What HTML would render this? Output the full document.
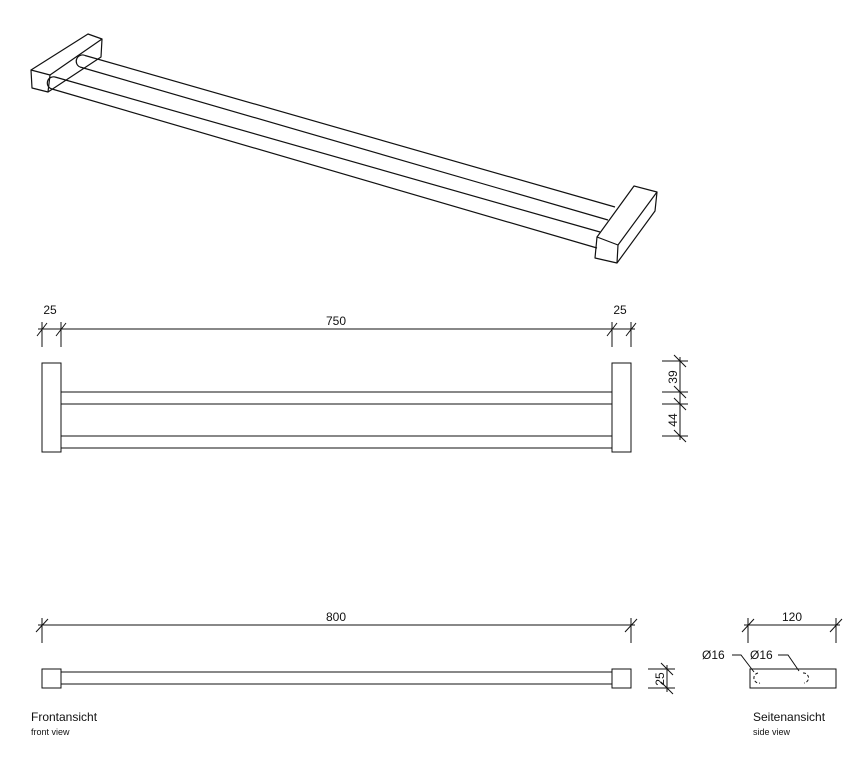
<!DOCTYPE html>
<html><head><meta charset="utf-8"><style>
html,body{margin:0;padding:0;background:#fff;}
svg{display:block;}
text{font-family:"Liberation Sans",sans-serif;fill:#111;}
</style></head><body>
<svg width="851" height="757" viewBox="0 0 851 757" xmlns="http://www.w3.org/2000/svg">
<g fill="none" stroke="#111" stroke-width="1.2" stroke-linejoin="round">
<polygon points="31,70 50,75 48,92 32,88"/>
<polyline points="31,70 88,34 102,39 50,75"/>
<polyline points="102,39 101,57 48,92"/>
<path d="M85,55.5 L615,207 M80,67 L608,220 M55,77 L600,232 M52,89 L597,248"/>
<path d="M85,55.5 A6,6 0 0 0 80,67 M55,77 A6,6 0 0 0 52,89"/>
<polygon points="597,237 618,245 617,263 595,258"/>
<polyline points="597,237 634,186 657,192 618,245"/>
<polyline points="657,192 655,211 617,263"/>
</g>
<g fill="none" stroke="#111" stroke-width="1">
<rect x="42" y="363" width="19" height="89"/>
<rect x="612" y="363" width="19" height="89"/>
<path d="M61,392H612M61,404H612M61,436H612M61,448H612"/>
<path d="M38,329H635M42,322V347M61,322V347M612,322V347M631,322V347"/>
<path d="M37,336l10,-13M56,336l10,-13M607,336l10,-13M626,336l10,-13"/>
<path d="M680,357V440M662,361H688M662,392H688M662,404H688M662,436H688"/>
<path d="M674,355l12,12M674,386l12,12M674,398l12,12M674,430l12,12"/>
<rect x="42" y="669" width="19" height="19"/>
<rect x="612" y="669" width="19" height="19"/>
<path d="M61,672H612M61,684H612"/>
<path d="M38,625H635M42,618V643M631,618V643"/>
<path d="M36,632l12,-13M625,632l12,-13"/>
<path d="M667,665V692M648,669H675M648,688H675M661,663l12,12M661,682l12,12"/>
<rect x="750" y="669" width="86" height="19"/>
<path d="M744,625H840M748,618V643M836,618V643M742,632l12,-13M830,632l12,-13"/>
<path d="M732,655H741L754,672M778,655H788L799,671" />
<path d="M758,673a5,5 0 1 0 2,10M803,673a5,5 0 0 1 1,10" stroke-dasharray="3,2"/>
</g>
<text x="50" y="314" font-size="12" text-anchor="middle">25</text>
<text x="336" y="325" font-size="12" text-anchor="middle">750</text>
<text x="620" y="314" font-size="12" text-anchor="middle">25</text>
<text x="677" y="377" font-size="12" text-anchor="middle" transform="rotate(-90 677 377)">39</text>
<text x="677" y="420" font-size="12" text-anchor="middle" transform="rotate(-90 677 420)">44</text>
<text x="336" y="621" font-size="12" text-anchor="middle">800</text>
<text x="664" y="679" font-size="12" text-anchor="middle" transform="rotate(-90 664 679)">25</text>
<text x="792" y="621" font-size="12" text-anchor="middle">120</text>
<text x="702" y="659" font-size="12">Ø16</text>
<text x="750" y="659" font-size="12">Ø16</text>
<text x="31" y="721" font-size="12">Frontansicht</text>
<text x="31" y="735" font-size="9">front view</text>
<text x="753" y="721" font-size="12">Seitenansicht</text>
<text x="753" y="735" font-size="9">side view</text>
</svg>
</body></html>
